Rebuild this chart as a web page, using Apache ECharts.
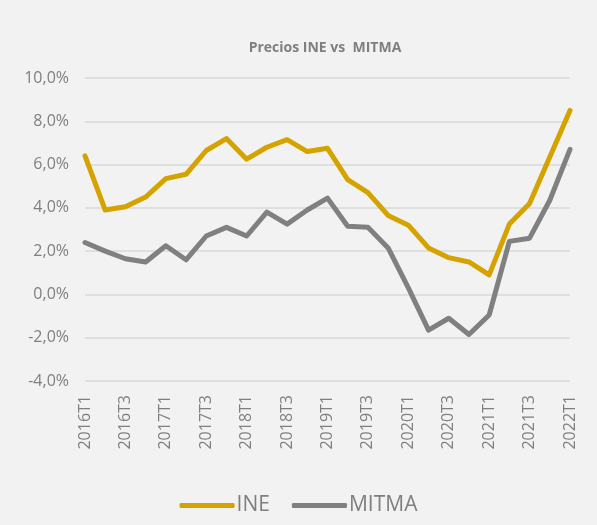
<!DOCTYPE html>
<html>
<head>
<meta charset="utf-8">
<script src="https://cdn.jsdelivr.net/npm/echarts@6/dist/echarts.min.js"></script>
<style>
  html, body { margin: 0; padding: 0; background: #f2f2f2; }
  #chart { width: 597px; height: 525px; }
</style>
</head>
<body>
<div id="chart"></div>
<script>
    // trimestres 2016T1 .. 2022T1
    var categories = ['2016T1','2016T2','2016T3','2016T4','2017T1','2017T2','2017T3','2017T4',
        '2018T1','2018T2','2018T3','2018T4','2019T1','2019T2','2019T3','2019T4',
        '2020T1','2020T2','2020T3','2020T4','2021T1','2021T2','2021T3','2021T4','2022T1'];
    var ineData = [6.4, 3.9, 4.05, 4.5, 5.35, 5.55, 6.65, 7.2, 6.25, 6.8, 7.15, 6.6, 6.75,
        5.3, 4.7, 3.65, 3.2, 2.15, 1.7, 1.5, 0.9, 3.25, 4.2, 6.35, 8.5];
    var mitmaData = [2.4, 2.0, 1.65, 1.5, 2.25, 1.6, 2.7, 3.1, 2.7, 3.8, 3.25, 3.9, 4.45,
        3.15, 3.1, 2.15, 0.3, -1.65, -1.1, -1.85, -0.95, 2.45, 2.6, 4.35, 6.7];
    var yTicks = [-4, -2, 0, 2, 4, 6, 8, 10];

    var font = '"Open Sans", "Liberation Sans", sans-serif';
    var chart = echarts.init(document.getElementById('chart'));
    chart.setOption({
        backgroundColor: '#f2f2f2',
        animation: false,
        title: {
            text: 'Precios INE vs  MITMA',
            left: 320,
            top: 36,
            textAlign: 'center',
            textStyle: { color: '#7f7f7f', fontSize: 14, fontWeight: 'bold', fontFamily: font }
        },
        grid: { left: 85, right: 27, top: 78, bottom: 144 },
        legend: {
            bottom: 4,
            left: 'center',
            icon: 'roundRect',
            itemWidth: 55,
            itemHeight: 5,
            itemGap: 22,
            textStyle: { color: '#7f7f7f', fontSize: 21, fontFamily: font, padding: [0, 0, 0, -3] },
            data: ['INE', 'MITMA']
        },
        xAxis: {
            type: 'category',
            data: categories,
            boundaryGap: false,
            axisLine: { show: false },
            axisTick: { show: false },
            axisLabel: {
                rotate: 90,
                interval: 1,
                margin: 14,
                color: '#7f7f7f',
                fontSize: 16,
                fontFamily: font
            }
        },
        yAxis: {
            type: 'value',
            min: yTicks[0],
            max: yTicks[yTicks.length - 1],
            interval: 2,
            axisLabel: {
                margin: 16,
                color: '#7f7f7f',
                fontSize: 16,
                fontFamily: font,
                formatter: function (v) { return v.toFixed(1).replace('.', ',') + '%'; }
            },
            splitLine: { lineStyle: { color: '#d9d9d9', width: 1.5 } }
        },
        series: [
            {
                name: 'INE', type: 'line', data: ineData,
                symbol: 'none', color: '#d4a300',
                lineStyle: { width: 5, cap: 'round', join: 'round' }
            },
            {
                name: 'MITMA', type: 'line', data: mitmaData,
                symbol: 'none', color: '#808080',
                lineStyle: { width: 5, cap: 'round', join: 'round' }
            }
        ]
    });
</script>
</body>
</html>
